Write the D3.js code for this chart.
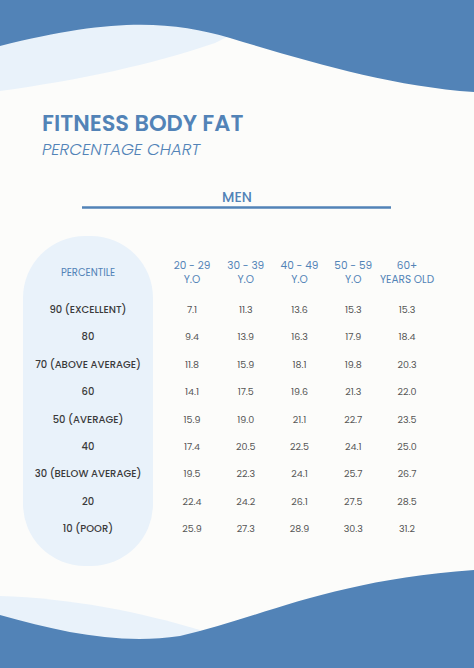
<!DOCTYPE html>
<html><head><meta charset="utf-8">
<script src="https://cdn.jsdelivr.net/npm/d3@7"></script>
<style>body{margin:0;background:#fcfcfa}svg{display:block}</style>
</head><body>
<svg id="c" width="474" height="668"></svg>
<script>
// table data
const percentiles = ['90 (EXCELLENT)', '80', '70 (ABOVE AVERAGE)', '60', '50 (AVERAGE)', '40', '30 (BELOW AVERAGE)', '20', '10 (POOR)'];
const ageTop = ['20 - 29', '30 - 39', '40 - 49', '50 - 59', '60+'];
const ageBottom = ['Y.O', 'Y.O', 'Y.O', 'Y.O', 'YEARS OLD'];
const values = [
  [7.1, 11.3, 13.6, 15.3, 15.3],
  [9.4, 13.9, 16.3, 17.9, 18.4],
  [11.8, 15.9, 18.1, 19.8, 20.3],
  [14.1, 17.5, 19.6, 21.3, 22.0],
  [15.9, 19.0, 21.1, 22.7, 23.5],
  [17.4, 20.5, 22.5, 24.1, 25.0],
  [19.5, 22.3, 24.1, 25.7, 26.7],
  [22.4, 24.2, 26.1, 27.5, 28.5],
  [25.9, 27.3, 28.9, 30.3, 31.2]
];

const BLUE = '#5283b7', LIGHT = '#e9f2fa', FONT = 'Poppins, "Open Sans", sans-serif';
const svg = d3.select('#c');
svg.append('rect').attr('width', 474).attr('height', 668).attr('fill', '#fcfcfa');

// waves
svg.append('path').attr('fill', LIGHT)
  .attr('d', 'M0,0 H300 L215,43 C150,65 80,80 0,91 Z');
svg.append('path').attr('fill', BLUE)
  .attr('d', 'M0,0 H474 V92 C390,86 310,62 230,38 C170,20 110,18 0,46 Z');
svg.append('path').attr('fill', LIGHT)
  .attr('d', 'M0,596 C70,598 140,612 200,630 L200,668 H0 Z');
svg.append('path').attr('fill', BLUE)
  .attr('d', 'M0,615 C60,632 120,645 180,636 C260,618 330,580 474,570 V668 H0 Z');

// title
svg.append('text').attr('x', 42).attr('y', 131).attr('fill', BLUE)
  .attr('font-family', FONT).attr('font-weight', 600).attr('font-size', 22.5).text('FITNESS BODY FAT');
svg.append('text').attr('x', 42).attr('y', 155).attr('fill', BLUE)
  .attr('font-family', FONT).attr('font-style', 'italic').attr('font-weight', 300).attr('font-size', 16.5).text('PERCENTAGE CHART');
svg.append('text').attr('x', 237).attr('y', 202).attr('text-anchor', 'middle').attr('fill', BLUE)
  .attr('font-family', FONT).attr('font-weight', 500).attr('font-size', 14).text('MEN');
svg.append('line').attr('x1', 82).attr('x2', 391).attr('y1', 207.5).attr('y2', 207.5)
  .attr('stroke', BLUE).attr('stroke-width', 2.5);

// pill
svg.append('rect').attr('x', 23).attr('y', 236).attr('width', 130).attr('height', 330)
  .attr('rx', 62).attr('fill', LIGHT);

const x = d3.scalePoint().domain(d3.range(ageTop.length)).range([192, 407]);
const y = d3.scalePoint().domain(percentiles).range([309, 528]);

svg.append('text').attr('x', 88).attr('y', 276).attr('text-anchor', 'middle').attr('fill', BLUE)
  .attr('font-family', FONT).attr('font-size', 10).text('PERCENTILE');

[[ageTop, 269], [ageBottom, 283]].forEach(([labels, yy]) => {
  svg.selectAll(null).data(labels).enter().append('text')
    .attr('x', (d, i) => x(i)).attr('y', yy).attr('text-anchor', 'middle').attr('fill', BLUE)
    .attr('font-family', FONT).attr('font-size', 10.5).text(d => d);
});

svg.selectAll('.lab').data(percentiles).enter().append('text')
  .attr('x', 88).attr('y', d => y(d) + 4).attr('text-anchor', 'middle').attr('fill', '#3a3a3a')
  .attr('font-family', FONT).attr('font-weight', 500).attr('font-size', 10).text(d => d);

values.forEach((row, r) => {
  svg.selectAll('.v' + r).data(row).enter().append('text')
    .attr('x', (d, i) => x(i)).attr('y', y(percentiles[r]) + 4).attr('text-anchor', 'middle')
    .attr('fill', '#555').attr('font-family', FONT).attr('font-size', 9.5).text(d => d.toFixed(1));
});
</script>
</body></html>
